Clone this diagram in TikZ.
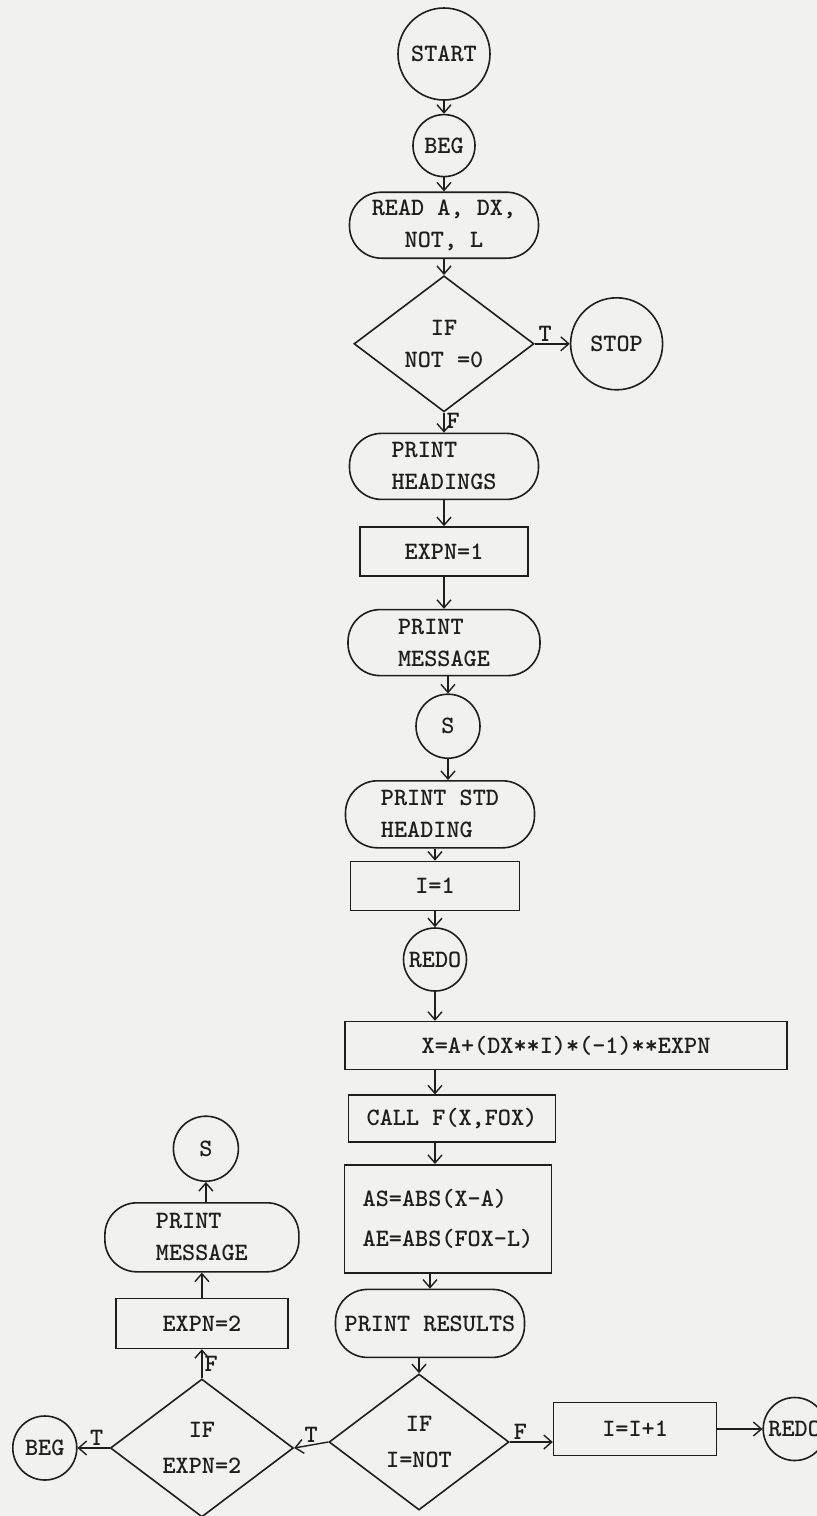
\documentclass[tikz,border=0pt]{standalone}
\usepackage{tikz}
\usetikzlibrary{arrows.meta, positioning, shapes.geometric}
\definecolor{ink}{RGB}{30,30,30}
\definecolor{paper}{RGB}{241,241,239}

\begin{document}
\begin{tikzpicture}[
    font=\fontsize{12.5}{16}\selectfont\ttfamily\bfseries, draw=ink, text=ink,
    circ/.style={circle, draw=ink, line width=0.8pt, inner sep=1pt},
    term/.style={rectangle, rounded corners=16pt, draw=ink, line width=0.8pt,
                 minimum width=94.5pt, minimum height=33pt, inner sep=2pt},
    proc/.style={rectangle, draw=ink, line width=0.8pt, minimum height=24.5pt, inner sep=2pt},
    dec/.style={diamond, draw=ink, line width=0.8pt, aspect=1.3, inner sep=0pt,
                minimum width=90pt, minimum height=68pt, align=center},
    arr/.style={-{Straight Barb[length=4pt,width=7pt]}, line width=0.7pt, ink},
    lbl/.style={inner sep=1pt, text=ink}
  ]
    \fill[paper] (0,0) rectangle (408.5pt,-758pt);
    \useasboundingbox (0,0) rectangle (408.5pt,-758pt);
    % main column
    \node[circ, minimum size=46pt] (start) at (222pt,-27pt) {START};
    \node[circ, minimum size=31pt, below=6.5pt of start] (beg) {BEG};
    \node[term, align=center, below=7pt of beg] (read) {READ A, DX,\\NOT, L};
    \node[dec, below=8pt of read] (ifnot) {IF\\NOT =0};
    \node[circ, minimum size=46pt, right=17.5pt of ifnot] (stop) {STOP};
    \node[term, align=left, below=10pt of ifnot] (headings) {PRINT\\HEADINGS};
    \node[proc, minimum width=84pt, below=13pt of headings] (expnone) {EXPN=1};
    \node[term, align=left, minimum width=96pt, below=16pt of expnone] (message) {PRINT\\MESSAGE};
    \node[circ, minimum size=32pt, below=8.5pt of message, xshift=2pt] (s) {S};
    \node[term, align=left, minimum height=33.5pt, below=10.5pt of s, xshift=-4pt] (stdhead) {PRINT STD\\HEADING};
    \node[proc, minimum width=84.5pt, below=6pt of stdhead, xshift=-2.5pt] (ione) {I=1};
    \node[circ, minimum size=31.5pt, below=8pt of ione] (redo) {REDO};
    \node[proc, minimum width=221pt, minimum height=24pt, below=14.5pt of redo, xshift=65.5pt] (xnew) {X=A+(DX**I)*(-1)**EXPN};
    \node[proc, minimum width=103.5pt, minimum height=23.5pt, below=12pt of xnew, xshift=-57pt] (call) {CALL F(X,FOX)};
    \node[proc, minimum width=103.5pt, minimum height=54pt, align=left, below=10.5pt of call, xshift=-2pt] (abserr) {AS=ABS(X-A)\\[4pt]AE=ABS(FOX-L)};
    \node[term, minimum height=34pt, below=7.5pt of abserr, xshift=-9pt] (results) {PRINT RESULTS};
    \node[dec, below=7.5pt of results, xshift=-5.5pt] (ifdone) {IF\\[2pt]I=NOT};
    % bottom row
    \node[proc, minimum width=81.5pt, minimum height=26.5pt, right=21.5pt of ifdone, yshift=6.5pt] (iinc) {I=I+1};
    \node[circ, minimum size=31.5pt, right=22.5pt of iinc] (redoend) {REDO};
    \node[dec, minimum width=91.5pt, minimum height=69pt, left=17pt of ifdone, yshift=-3pt] (ifexpn) {IF\\[2pt]EXPN=2};
    \node[circ, minimum size=32pt, left=16pt of ifexpn] (begend) {BEG};
    % left column
    \node[proc, minimum width=86pt, minimum height=25pt, above=14.5pt of ifexpn] (expntwo) {EXPN=2};
    \node[term, align=left, minimum width=97pt, minimum height=34.5pt, above=12.5pt of expntwo] (message2) {PRINT\\MESSAGE};
    \node[circ, minimum size=32.5pt, above=10pt of message2, xshift=2pt] (s2) {S};
    % connectors
    \draw[arr] (start) -- (beg);
    \draw[arr] (beg) -- (read);
    \draw[arr] (read) -- (ifnot);
    \draw[arr] (ifnot) -- node[lbl, above, pos=0.3] {T} (stop);
    \draw[arr] (ifnot) -- node[lbl, right, pos=0.4] {F} (headings);
    \draw[arr] (headings) -- (expnone);
    \draw[arr] (expnone) -- (message);
    \draw[arr] (message.south -| s) -- (s);
    \draw[arr] (s) -- (s |- stdhead.north);
    \draw[arr] (stdhead.south -| ione) -- (ione);
    \draw[arr] (ione) -- (redo);
    \draw[arr] (redo) -- (redo |- xnew.north);
    \draw[arr] (redo |- xnew.south) -- (redo |- call.north);
    \draw[arr] (redo |- call.south) -- (redo |- abserr.north);
    \draw[arr] (results |- abserr.south) -- (results);
    \draw[arr] (results.south -| ifdone) -- (ifdone);
    \draw[arr] (ifdone.east) -- node[lbl, above, pos=0.25] {F} (ifdone.east -| iinc.west);
    \draw[arr] (iinc) -- (redoend);
    \draw[arr] (ifdone.west) -- node[lbl, above] {T} (ifexpn.east);
    \draw[arr] (ifexpn) -- node[lbl, above, pos=0.4] {T} (begend);
    \draw[arr] (ifexpn) -- node[lbl, right] {F} (expntwo);
    \draw[arr] (expntwo) -- (message2);
    \draw[arr] (message2.north -| s2) -- (s2);
\end{tikzpicture}
\end{document}
